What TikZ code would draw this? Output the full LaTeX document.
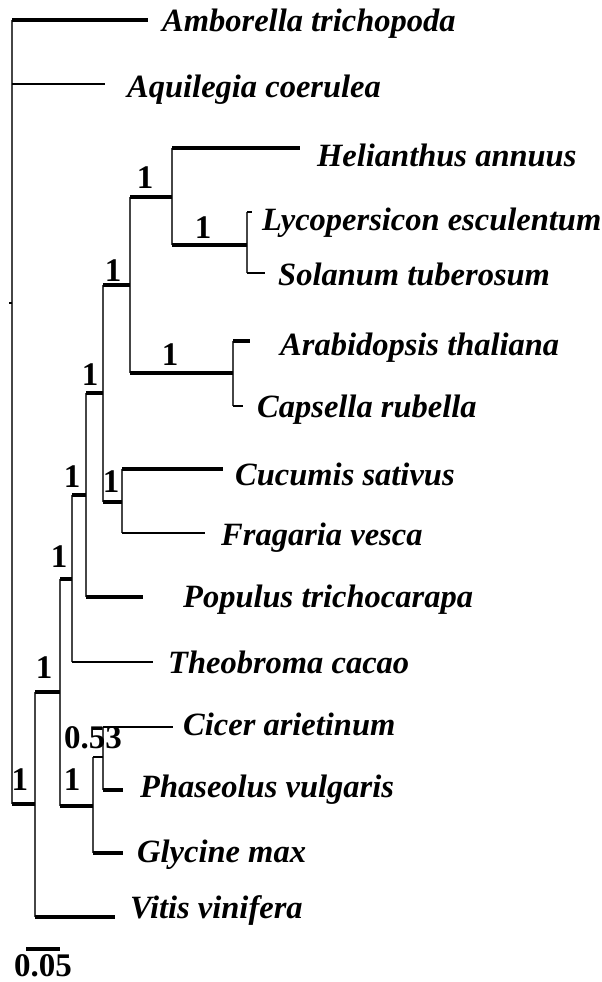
\documentclass[tikz,border=0pt]{standalone}
\usepackage{fontspec}
\setmainfont{Liberation Serif}
\begin{document}
\begin{tikzpicture}[x=1pt, y=-1pt, font=\fontsize{33}{36}\selectfont\bfseries,
		vbranch/.style={line width=1.3pt, branchgray},
		hbranch/.style={line width=3.2pt},
		taxon/.style={anchor=base west, inner sep=0pt, font=\fontsize{32.5}{36}\selectfont\bfseries\itshape},
		support/.style={inner sep=0pt}]
	\definecolor{branchgray}{RGB}{70,70,70}
	\useasboundingbox (0,0) rectangle (602,982);
	% internal nodes
	\coordinate (root) at (12,20);
	\coordinate (nA) at (35,804);
	\coordinate (nB) at (60,692);
	\coordinate (nC) at (72,579);
	\coordinate (nD) at (86,495);
	\coordinate (nE) at (103,393);
	\coordinate (nH) at (130,285);
	\coordinate (nJ) at (172,197);
	\coordinate (nL) at (247,245);
	\coordinate (nK) at (233,373);
	\coordinate (nI) at (122,502);
	\coordinate (nF) at (93,806);
	\coordinate (nG) at (103,757);
	% tips
	\coordinate (amb) at (148,20);
	\coordinate (aqu) at (105,84);
	\coordinate (hel) at (300,148);
	\coordinate (lyc) at (252,212);
	\coordinate (sol) at (265,273);
	\coordinate (ara) at (250,341);
	\coordinate (cap) at (243,406);
	\coordinate (cuc) at (223,469);
	\coordinate (fra) at (205,533);
	\coordinate (pop) at (143,597);
	\coordinate (theo) at (153,662);
	\coordinate (cic) at (173,727);
	\coordinate (pha) at (123,790);
	\coordinate (gly) at (123,853);
	\coordinate (vit) at (115,917);
	% vertical lines
	\draw[vbranch] (root) -- (root |- nA);
	\draw[line width=1.8pt] (root |- 0,303) -- +(-3,0);
	\draw[vbranch] (nA |- nB) -- (nA |- vit);
	\draw[vbranch] (nB |- nC) -- (nB |- nF);
	\draw[vbranch] (nC |- nD) -- (nC |- theo);
	\draw[vbranch] (nD |- nE) -- (nD |- pop);
	\draw[vbranch] (nE |- nH) -- (nE |- nI);
	\draw[vbranch] (nH |- nJ) -- (nH |- nK);
	\draw[vbranch] (nJ |- hel) -- (nJ |- nL);
	\draw[vbranch] (nL |- lyc) -- (nL |- sol);
	\draw[vbranch] (nK |- ara) -- (nK |- cap);
	\draw[vbranch] (nI |- cuc) -- (nI |- fra);
	\draw[vbranch] (nF |- nG) -- (nF |- gly);
	\draw[vbranch] (nG |- cic) -- (nG |- pha);
	% horizontal lines
	\draw[hbranch, line width=4pt] (root) -- (amb);
	\draw[hbranch, line width=2.6pt] (root |- aqu) -- (aqu);
	\draw[hbranch] (root |- nA) -- (nA);
	\draw[hbranch] (nA |- nB) -- (nB);
	\draw[hbranch] (nA |- vit) -- (vit);
	\draw[hbranch] (nB |- nC) -- (nC);
	\draw[hbranch] (nB |- nF) -- (nF);
	\draw[hbranch] (nC |- nD) -- (nD);
	\draw[hbranch, line width=2.6pt] (nC |- theo) -- (theo);
	\draw[hbranch] (nD |- nE) -- (nE);
	\draw[hbranch] (nD |- pop) -- (pop);
	\draw[hbranch] (nE |- nH) -- (nH);
	\draw[hbranch] (nE |- nI) -- (nI);
	\draw[hbranch] (nH |- nJ) -- (nJ);
	\draw[hbranch] (nH |- nK) -- (nK);
	\draw[hbranch] (nJ |- hel) -- (hel);
	\draw[hbranch] (nJ |- nL) -- (nL);
	\draw[hbranch, line width=2.4pt] (nL |- lyc) -- (lyc);
	\draw[hbranch, line width=2.4pt] (nL |- sol) -- (sol);
	\draw[hbranch] (nK |- ara) -- (ara);
	\draw[hbranch, line width=2.4pt] (nK |- cap) -- (cap);
	\draw[hbranch] (nI |- cuc) -- (cuc);
	\draw[hbranch, line width=2.6pt] (nI |- fra) -- (fra);
	\draw[hbranch, line width=2.4pt] (nF |- nG) -- (nG);
	\draw[hbranch] (nF |- gly) -- (gly);
	\draw[hbranch, line width=2.4pt] (nG |- cic) -- (cic);
	\draw[hbranch] (nG |- pha) -- (pha);
	% support values
	\node[support] (sJ) at (145,178) {1};
	\node[support] (sL) at (203,228) {1};
	\node[support] (sH) at (113,271) {1};
	\node[support] (sK) at (170,355) {1};
	\node[support] (sE) at (90,375) {1};
	\node[support] (sI) at (111,482) {1};
	\node[support] (sD) at (72,477) {1};
	\node[support] (sC) at (59,557) {1};
	\node[support] (sB) at (44,668) {1};
	\node[support] (sA) at (20,780) {1};
	\node[support] (sF) at (72,780) {1};
	\node[support] (sG) at (93,738) {0.53};
	% taxa
	\node[taxon] (tAmb) at (162,32) {Amborella trichopoda};
	\node[taxon] (tAqu) at (127,97) {Aquilegia coerulea};
	\node[taxon] (tHel) at (317,166) {Helianthus annuus};
	\node[taxon] (tLyc) at (262,230) {Lycopersicon esculentum};
	\node[taxon] (tSol) at (278,285) {Solanum tuberosum};
	\node[taxon] (tAra) at (280,355) {Arabidopsis thaliana};
	\node[taxon] (tCap) at (257,417) {Capsella rubella};
	\node[taxon] (tCuc) at (235,485) {Cucumis sativus};
	\node[taxon] (tFra) at (221,545) {Fragaria vesca};
	\node[taxon] (tPop) at (183,607) {Populus trichocarapa};
	\node[taxon] (tTheo) at (168,673) {Theobroma cacao};
	\node[taxon] (tCic) at (183,735) {Cicer arietinum};
	\node[taxon] (tPha) at (140,797) {Phaseolus vulgaris};
	\node[taxon] (tGly) at (137,862) {Glycine max};
	\node[taxon] (tVit) at (130,918) {Vitis vinifera};
	% scale bar
	\coordinate (sb1) at (26,949);
	\coordinate (sb2) at (60,949);
	\draw[hbranch] (sb1) -- (sb2);
	\node[support] (sbl) at (43,966) {0.05};
\end{tikzpicture}
\end{document}
